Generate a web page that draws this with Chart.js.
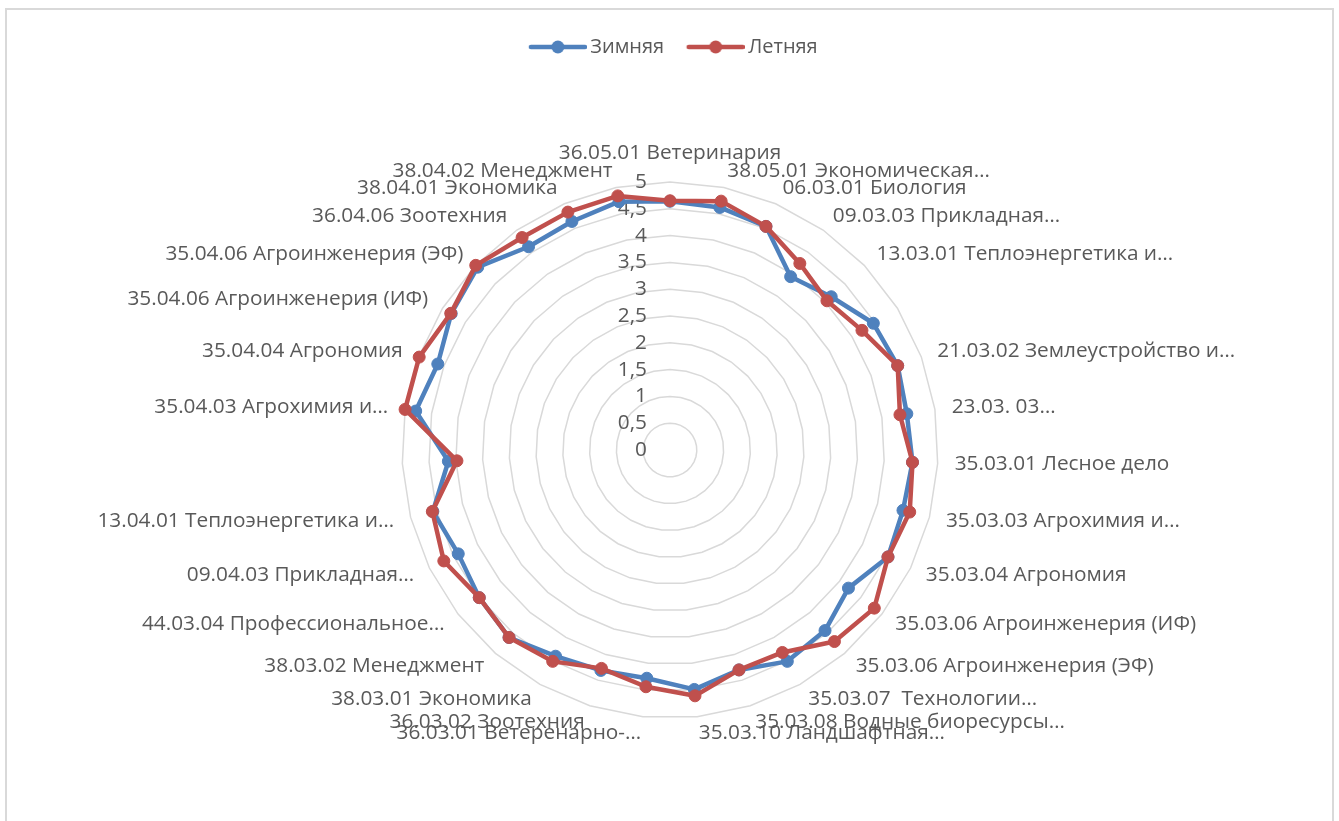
<!DOCTYPE html>
<html>
<head>
<meta charset="utf-8">
<script src="https://cdn.jsdelivr.net/npm/chart.js@4.4.1/dist/chart.umd.min.js"></script>
<style>
html,body{margin:0;padding:0;background:#fff;overflow:hidden;width:1339px;height:821px}
#frame{position:absolute;left:5px;top:8px;width:1329px;height:900px;border:2px solid #d9d9d9;box-sizing:border-box}
#c{position:absolute;left:0;top:0}
</style>
</head>
<body>
<div id="frame"></div>
<canvas id="c" width="1339" height="850"></canvas>
<script>
// ---- data ----
const categories = [
  '36.05.01 Ветеринария',
  '38.05.01 Экономическая…',
  '06.03.01 Биология',
  '09.03.03 Прикладная…',
  '13.03.01 Теплоэнергетика и…',
  '',
  '21.03.02 Землеустройство и…',
  '23.03. 03…',
  '35.03.01 Лесное дело',
  '35.03.03 Агрохимия и…',
  '35.03.04 Агрономия',
  '35.03.06 Агроинженерия (ИФ)',
  '35.03.06 Агроинженерия (ЭФ)',
  '35.03.07  Технологии…',
  '35.03.08 Водные биоресурсы…',
  '35.03.10 Ландшафтная…',
  '36.03.01 Ветеренарно-…',
  '36.03.02 Зоотехния',
  '38.03.01 Экономика',
  '38.03.02 Менеджмент',
  '44.03.04 Профессиональное…',
  '09.04.03 Прикладная…',
  '13.04.01 Теплоэнергетика и…',
  '',
  '35.04.03 Агрохимия и…',
  '35.04.04 Агрономия',
  '35.04.06 Агроинженерия (ИФ)',
  '35.04.06 Агроинженерия (ЭФ)',
  '36.04.06 Зоотехния',
  '38.04.01 Экономика',
  '38.04.02 Менеджмент'
];
const winterValues = [4.64, 4.62, 4.54, 3.94, 4.15, 4.47, 4.53, 4.47, 4.53, 4.49, 4.53,
  4.21, 4.44, 4.51, 4.30, 4.49, 4.28, 4.31, 4.40, 4.61, 4.50,
  4.40, 4.57, 4.14, 4.80, 4.62, 4.81, 4.95, 4.62, 4.64, 4.73];
const summerValues = [4.65, 4.74, 4.54, 4.24, 4.04, 4.22, 4.53, 4.34, 4.53, 4.62, 4.53,
  4.82, 4.71, 4.32, 4.30, 4.61, 4.44, 4.27, 4.51, 4.61, 4.50,
  4.70, 4.58, 3.98, 5.00, 4.99, 4.82, 5.00, 4.83, 4.83, 4.84];
const seriesNames = ['Зимняя', 'Летняя'];
const tickValues = [0, 0.5, 1, 1.5, 2, 2.5, 3, 3.5, 4, 4.5, 5];

// ---- styles ----
const BLUE = '#4F81BD';
const RED = '#C0504D';
const TEXT = '#595959';
const FONT = '"Open Sans", "DejaVu Sans", sans-serif';

function legendSymbol(color) {
  const cv = document.createElement('canvas');
  cv.width = 70; cv.height = 16;
  const g = cv.getContext('2d');
  g.strokeStyle = color; g.lineWidth = 4.5; g.lineCap = 'round';
  g.beginPath(); g.moveTo(14, 8); g.lineTo(68, 8); g.stroke();
  g.fillStyle = color;
  g.beginPath(); g.arc(41, 8, 6.5, 0, Math.PI * 2); g.fill();
  return cv;
}
const legendImages = [legendSymbol(BLUE), legendSymbol(RED)];

const excelLabels = {
  id: 'excelLabels',
  beforeDatasetsDraw(chart) {
    const s = chart.scales.r;
    const ctx = chart.ctx;
    ctx.save();
    ctx.font = '20.8px ' + FONT;
    ctx.fillStyle = TEXT;
    ctx.textBaseline = 'middle';
    ctx.textAlign = 'right';
    tickValues.forEach(v => {
      const d = s.getDistanceFromCenterForValue(v);
      ctx.fillText(String(v).replace('.', ','), s.xCenter - 23, s.yCenter - d);
    });
    chart.data.labels.forEach((text, i) => {
      if (!text) return;
      const deg = Math.round(s.getIndexAngle(i) * 180 / Math.PI) % 360;
      const p = s.getPointPosition(i, s.drawingArea + 17);
      let y = p.y;
      let align = 'left';
      if (deg === 0 || deg === 180) align = 'center';
      else if (deg > 180) align = 'right';
      if (deg === 0) y -= 12;
      ctx.textAlign = align;
      ctx.fillText(text, p.x, y);
    });
    ctx.restore();
  }
};

new Chart(document.getElementById('c'), {
  type: 'radar',
  data: {
    labels: categories,
    datasets: [
      {
        label: seriesNames[0], data: winterValues,
        borderColor: BLUE, backgroundColor: BLUE,
        pointBackgroundColor: BLUE, pointBorderColor: BLUE,
        borderWidth: 4.5, pointRadius: 6, pointBorderWidth: 1,
        borderJoinStyle: 'round', fill: false, order: 2
      },
      {
        label: seriesNames[1], data: summerValues,
        borderColor: RED, backgroundColor: RED,
        pointBackgroundColor: RED, pointBorderColor: RED,
        borderWidth: 4.5, pointRadius: 6, pointBorderWidth: 1,
        borderJoinStyle: 'round', fill: false, order: 1
      }
    ]
  },
  options: {
    responsive: false,
    animation: false,
    events: [],
    layout: { padding: { top: 20, left: 402, right: 400, bottom: 16 } },
    plugins: {
      tooltip: { enabled: false },
      legend: {
        display: true,
        position: 'top',
        labels: {
          usePointStyle: true,
          pointStyleWidth: 57,
          padding: 17,
          color: TEXT,
          font: { family: FONT, size: 20 },
          sort: (a, b) => a.datasetIndex - b.datasetIndex,
          generateLabels: (chart) => {
            const items = Chart.defaults.plugins.legend.labels.generateLabels(chart);
            items.forEach(it => { it.pointStyle = legendImages[it.datasetIndex]; });
            return items;
          }
        }
      }
    },
    scales: {
      r: {
        min: 0, max: 5,
        ticks: { display: false, stepSize: 0.5 },
        grid: { color: '#d9d9d9', lineWidth: 1.5, circular: false },
        angleLines: { display: false },
        pointLabels: { display: false }
      }
    }
  },
  plugins: [excelLabels]
});
</script>
</body>
</html>
